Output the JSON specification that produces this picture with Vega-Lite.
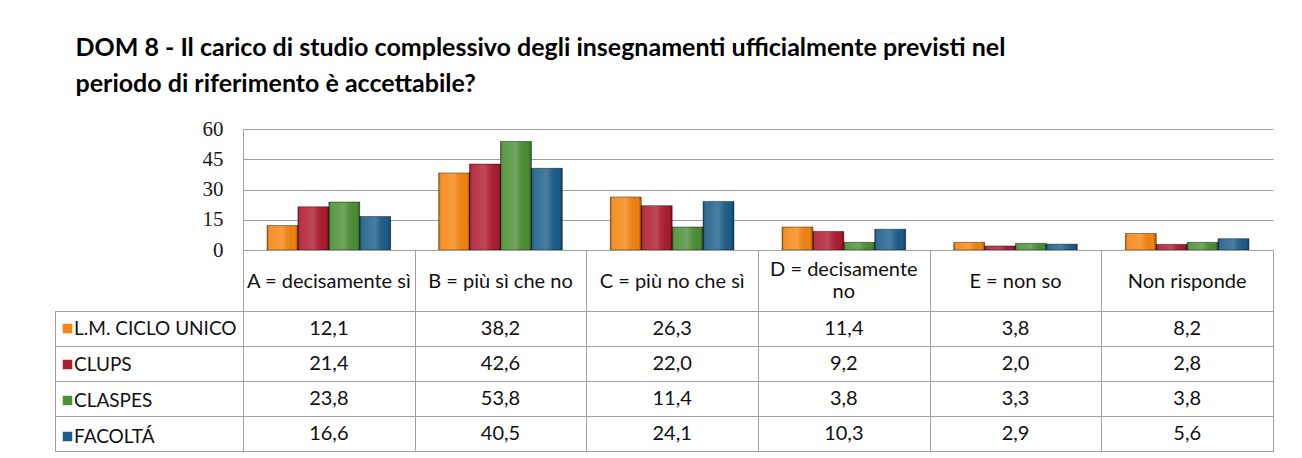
{
  "$schema": "https://vega.github.io/schema/vega-lite/v6.json",
  "background": "white",
  "padding": {"left": 54, "top": 36, "right": 30, "bottom": 7},
  "datasets": {
    "vals": [
      {"cat": "A = decisamente sì", "series": "L.M. CICLO UNICO", "value": 12.1},
      {"cat": "A = decisamente sì", "series": "CLUPS", "value": 21.4},
      {"cat": "A = decisamente sì", "series": "CLASPES", "value": 23.8},
      {"cat": "A = decisamente sì", "series": "FACOLTÁ", "value": 16.6},
      {"cat": "B = più sì che no", "series": "L.M. CICLO UNICO", "value": 38.2},
      {"cat": "B = più sì che no", "series": "CLUPS", "value": 42.6},
      {"cat": "B = più sì che no", "series": "CLASPES", "value": 53.8},
      {"cat": "B = più sì che no", "series": "FACOLTÁ", "value": 40.5},
      {"cat": "C = più no che sì", "series": "L.M. CICLO UNICO", "value": 26.3},
      {"cat": "C = più no che sì", "series": "CLUPS", "value": 22.0},
      {"cat": "C = più no che sì", "series": "CLASPES", "value": 11.4},
      {"cat": "C = più no che sì", "series": "FACOLTÁ", "value": 24.1},
      {"cat": "D = decisamente no", "series": "L.M. CICLO UNICO", "value": 11.4},
      {"cat": "D = decisamente no", "series": "CLUPS", "value": 9.2},
      {"cat": "D = decisamente no", "series": "CLASPES", "value": 3.8},
      {"cat": "D = decisamente no", "series": "FACOLTÁ", "value": 10.3},
      {"cat": "E = non so", "series": "L.M. CICLO UNICO", "value": 3.8},
      {"cat": "E = non so", "series": "CLUPS", "value": 2.0},
      {"cat": "E = non so", "series": "CLASPES", "value": 3.3},
      {"cat": "E = non so", "series": "FACOLTÁ", "value": 2.9},
      {"cat": "Non risponde", "series": "L.M. CICLO UNICO", "value": 8.2},
      {"cat": "Non risponde", "series": "CLUPS", "value": 2.8},
      {"cat": "Non risponde", "series": "CLASPES", "value": 3.8},
      {"cat": "Non risponde", "series": "FACOLTÁ", "value": 5.6}
    ],
    "hdr": [
      {"cat": "A = decisamente sì", "label": "A = decisamente sì"},
      {"cat": "B = più sì che no", "label": "B = più sì che no"},
      {"cat": "C = più no che sì", "label": "C = più no che sì"},
      {"cat": "D = decisamente no", "label": "D = decisamente\nno"},
      {"cat": "E = non so", "label": "E = non so"},
      {"cat": "Non risponde", "label": "Non risponde"}
    ]
  },
  "title": {
    "text": ["DOM 8 - Il carico di studio complessivo degli insegnamenti ufficialmente previsti nel", "periodo di riferimento è accettabile?"],
    "anchor": "start",
    "font": "Lato",
    "fontSize": 25,
    "fontWeight": "bold",
    "lineHeight": 36,
    "color": "#000000",
    "dx": 21,
    "offset": 21
  },
  "columns": 2,
  "spacing": 0,
  "bounds": "flush",
  "align": "each",
  "resolve": {"legend": {"color": "independent"}},
  "concat": [
    {
      "width": 188, "height": 121,
      "data": {"values": []},
      "mark": {"type": "point", "opacity": 0},
      "view": {"stroke": null}
    },
    {
      "width": 1030, "height": 121,
      "data": {"name": "vals"},
      "view": {"stroke": null},
      "encoding": {
        "x": {"field": "cat", "type": "nominal", "scale": {"domain": ["A = decisamente sì", "B = più sì che no", "C = più no che sì", "D = decisamente no", "E = non so", "Non risponde"], "paddingInner": 0.28, "paddingOuter": 0.14}, "axis": null},
        "xOffset": {"field": "series", "type": "nominal", "scale": {"domain": ["L.M. CICLO UNICO", "CLUPS", "CLASPES", "FACOLTÁ"], "paddingInner": 0, "paddingOuter": 0}},
        "y": {"field": "value", "type": "quantitative", "scale": {"domain": [0, 60], "nice": false}, "axis": {"values": [0, 15, 30, 45, 60], "title": null, "grid": true, "gridColor": "#a0a0a0", "domainColor": "#a0a0a0", "ticks": false, "labelPadding": 20, "labelFont": "Liberation Serif", "labelFontSize": 21, "labelColor": "#1a1a1a"}}
      },
      "layer": [
        {
          "mark": {"type": "bar"},
          "encoding": {"color": {"field": "series", "type": "nominal", "scale": {"domain": ["L.M. CICLO UNICO", "CLUPS", "CLASPES", "FACOLTÁ"], "range": ["#f7850f", "#b01b2f", "#4b9034", "#1b5e8b"]}, "legend": null}}
        },
        {
          "mark": {"type": "bar", "stroke": "rgba(0,0,0,0.4)", "strokeWidth": 1,
            "fill": {"gradient": "linear", "x1": 0, "y1": 0, "x2": 1, "y2": 0, "stops": [
              {"offset": 0, "color": "rgba(0,0,0,0.3)"},
              {"offset": 0.1, "color": "rgba(255,255,255,0.1)"},
              {"offset": 0.5, "color": "rgba(255,255,255,0.2)"},
              {"offset": 0.9, "color": "rgba(0,0,0,0.02)"},
              {"offset": 1, "color": "rgba(0,0,0,0.35)"}
            ]}
          }
        }
      ]
    },
    {
      "width": 188, "height": 61,
      "data": {"values": []},
      "mark": {"type": "point", "opacity": 0},
      "view": {"stroke": null}
    },
    {
      "width": 1030, "height": 61,
      "data": {"name": "hdr"},
      "view": {"stroke": "#a0a0a0"},
      "encoding": {
        "x": {"field": "cat", "type": "nominal", "scale": {"domain": ["A = decisamente sì", "B = più sì che no", "C = più no che sì", "D = decisamente no", "E = non so", "Non risponde"], "paddingInner": 0, "paddingOuter": 0}, "axis": {"grid": true, "tickBand": "extent", "labels": false, "ticks": false, "domain": false, "title": null, "gridColor": "#a0a0a0"}},
        "text": {"field": "label"}
      },
      "layer": [
        {
          "transform": [{"filter": "datum.cat != 'D = decisamente no'"}],
          "mark": {"type": "text", "font": "Lato", "fontSize": 20, "baseline": "middle", "dy": 1, "color": "#111111"}
        },
        {
          "transform": [{"filter": "datum.cat == 'D = decisamente no'"}],
          "mark": {"type": "text", "font": "Lato", "fontSize": 20, "lineBreak": "\n", "lineHeight": 22, "baseline": "middle", "dy": -11, "color": "#111111"}
        }
      ]
    },
    {
      "width": 188, "height": 140,
      "data": {"name": "vals"},
      "view": {"stroke": "#a0a0a0"},
      "mark": {"type": "point", "opacity": 0, "filled": true, "shape": "square"},
      "encoding": {
        "y": {"field": "series", "type": "nominal", "scale": {"domain": ["L.M. CICLO UNICO", "CLUPS", "CLASPES", "FACOLTÁ"], "paddingInner": 0, "paddingOuter": 0}, "axis": {"grid": true, "tickBand": "extent", "labels": false, "ticks": false, "domain": false, "title": null, "gridColor": "#a0a0a0"}},
        "color": {"field": "series", "type": "nominal", "scale": {"domain": ["L.M. CICLO UNICO", "CLUPS", "CLASPES", "FACOLTÁ"], "range": ["#f7850f", "#b01b2f", "#4b9034", "#1b5e8b"]},
          "legend": {"orient": "none", "legendX": 3, "legendY": 8, "padding": 0, "title": null, "symbolType": "square", "symbolSize": 90, "symbolOpacity": 1, "symbolStrokeWidth": 0, "labelFont": "Lato", "labelFontSize": 19, "labelColor": "#111111", "labelLimit": 200, "rowPadding": 16, "labelOffset": -3}}
      }
    },
    {
      "width": 1030, "height": 140,
      "data": {"name": "vals"},
      "view": {"stroke": "#a0a0a0"},
      "mark": {"type": "text", "font": "Lato", "fontSize": 20, "baseline": "middle", "color": "#111111"},
      "encoding": {
        "x": {"field": "cat", "type": "nominal", "scale": {"domain": ["A = decisamente sì", "B = più sì che no", "C = più no che sì", "D = decisamente no", "E = non so", "Non risponde"], "paddingInner": 0, "paddingOuter": 0}, "axis": {"grid": true, "tickBand": "extent", "labels": false, "ticks": false, "domain": false, "title": null, "gridColor": "#a0a0a0"}},
        "y": {"field": "series", "type": "nominal", "scale": {"domain": ["L.M. CICLO UNICO", "CLUPS", "CLASPES", "FACOLTÁ"], "paddingInner": 0, "paddingOuter": 0}, "axis": {"grid": true, "tickBand": "extent", "labels": false, "ticks": false, "domain": false, "title": null, "gridColor": "#a0a0a0"}},
        "text": {"field": "value", "type": "quantitative", "format": ".1f"}
      }
    }
  ],
  "config": {
    "locale": {"number": {"decimal": ",", "thousands": ".", "grouping": [3], "currency": ["", " €"]}},
    "view": {"stroke": null},
    "font": "Lato"
  }
}
